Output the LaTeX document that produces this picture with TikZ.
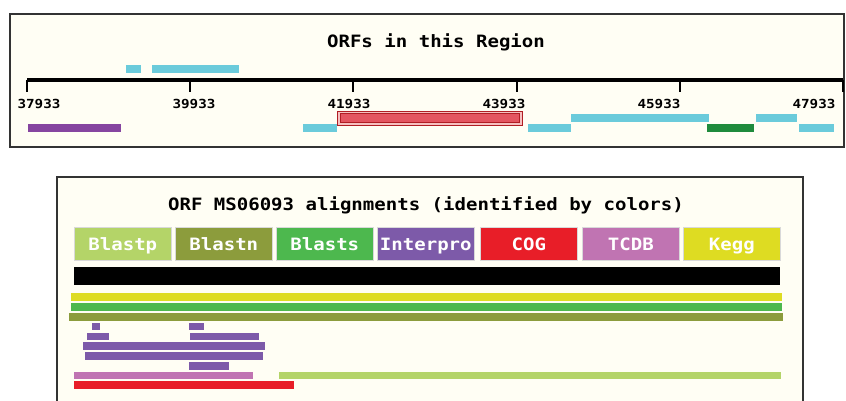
\documentclass[tikz,border=0pt]{standalone}
\usepackage{fontspec}
\newfontfamily\monob[FakeStretch=1.12]{DejaVu Sans Mono Bold}
\newfontfamily\monot[FakeStretch=1.14]{DejaVu Sans Mono Bold}
\definecolor{cream}{HTML}{FFFEF4}
\definecolor{frame}{HTML}{333333}
\definecolor{cyanbar}{HTML}{6BCBDB}
\definecolor{purpbar}{HTML}{8645A0}
\definecolor{orfred}{HTML}{E45560}
\definecolor{orfpink}{HTML}{F6C0C0}
\definecolor{orfdark}{HTML}{B01E24}
\definecolor{dkgreen}{HTML}{1F8B3C}
\definecolor{cBlastp}{HTML}{B4D468}
\definecolor{cBlastn}{HTML}{8C9C3C}
\definecolor{cBlasts}{HTML}{4DB84E}
\definecolor{cInterpro}{HTML}{7D5AA9}
\definecolor{cCOG}{HTML}{E81E28}
\definecolor{cTCDB}{HTML}{C074B2}
\definecolor{cKegg}{HTML}{DEDC22}
\tikzset{
  panel/.style={draw=frame,line width=1.6pt,fill=cream},
  titletext/.style={font=\monob\fontsize{17}{17}\selectfont,text=black,inner sep=0pt},
  ticktext/.style={font=\monot\fontsize{12.5}{12.5}\selectfont,text=black,inner sep=0pt},
  legendbox/.style={minimum width=97pt,minimum height=33pt,inner sep=0pt,anchor=north west,
     text height=12.4pt,text depth=0pt,
     font=\monob\fontsize{17}{17}\selectfont,text=white,draw=white!70!gray,line width=0.6pt},
}
\begin{document}
\begin{tikzpicture}[x=1pt,y=-1pt]
\useasboundingbox (0,0) rectangle (846,401);
\fill[white] (0,0) rectangle (846,401);
% ---------- top panel ----------
\draw[panel] (10,14) rectangle (844,147);
\node[titletext] (t1) at (436,42) {ORFs in this Region};
% cyan above axis
\fill[cyanbar] (126,65) rectangle (141,73);
\fill[cyanbar] (152,65) rectangle (239,73);
% axis
\coordinate (axL) at (27,80);
\coordinate (axR) at (843,80);
\draw[line width=4pt] (axL) -- (axR);
\foreach \i/\lab in {0/37933,1/39933,2/41933,3/43933,4/45933,5/47933}{
  \pgfmathsetmacro{\xx}{27+163.2*\i}
  \pgfmathsetmacro{\lx}{39+155*\i}
  \draw[line width=2pt] (\xx,80) -- (\xx,92);
  \node[ticktext] (tick\i) at (\lx,104) {\lab};
}
% bars below axis
\fill[purpbar] (28,124) rectangle (121,132);
\fill[cyanbar] (303,124) rectangle (337,132);
\draw[orfdark,fill=orfpink,line width=0.8pt] (337,111) rectangle (522,125);
\draw[orfdark,fill=orfred,line width=0.8pt] (340,113.5) rectangle (519,122);
\fill[cyanbar] (528,124) rectangle (571,132);
\fill[cyanbar] (571,114) rectangle (709,122);
\fill[dkgreen] (707,124) rectangle (754,132);
\fill[cyanbar] (756,114) rectangle (797,122);
\fill[cyanbar] (799,124) rectangle (834,132);
% ---------- bottom panel ----------
\fill[cream] (57,177) rectangle (803,401);
\draw[frame,line width=1.6pt] (57,402) -- (57,177) -- (803,177) -- (803,402);
\node[titletext] (t2) at (426,205) {ORF MS06093 alignments (identified by colors)};
% legend
\node[legendbox,fill=cBlastp]   (lBlastp)   at (74,227)  {Blastp};
\node[legendbox,fill=cBlastn]   (lBlastn)   at (175,227) {Blastn};
\node[legendbox,fill=cBlasts]   (lBlasts)   at (276,227) {Blasts};
\node[legendbox,fill=cInterpro] (lInterpro) at (377,227) {Interpro};
\node[legendbox,fill=cCOG]      (lCOG)      at (480,227) {COG};
\node[legendbox,fill=cTCDB]     (lTCDB)     at (582,227) {TCDB};
\node[legendbox,fill=cKegg]     (lKegg)     at (683,227) {Kegg};
% query bar
\fill[black] (74,267) rectangle (780,285);
% full-length hits
\fill[cKegg]   (71,293) rectangle (782,301);
\fill[cBlasts] (71,303) rectangle (782,311);
\fill[cBlastn] (69,313) rectangle (783,321);
% interpro hits
\fill[cInterpro] (92,323) rectangle (100,330);
\fill[cInterpro] (189,323) rectangle (204,330);
\fill[cInterpro] (87,333) rectangle (109,340);
\fill[cInterpro] (190,333) rectangle (259,340);
\fill[cInterpro] (83,342) rectangle (265,350);
\fill[cInterpro] (85,352) rectangle (263,360);
\fill[cInterpro] (189,362) rectangle (229,370);
% tcdb / blastp / cog
\fill[cTCDB]   (74,372) rectangle (253,379);
\fill[cBlastp] (279,372) rectangle (781,379);
\fill[cCOG]    (74,381) rectangle (294,389);
\end{tikzpicture}
\end{document}
